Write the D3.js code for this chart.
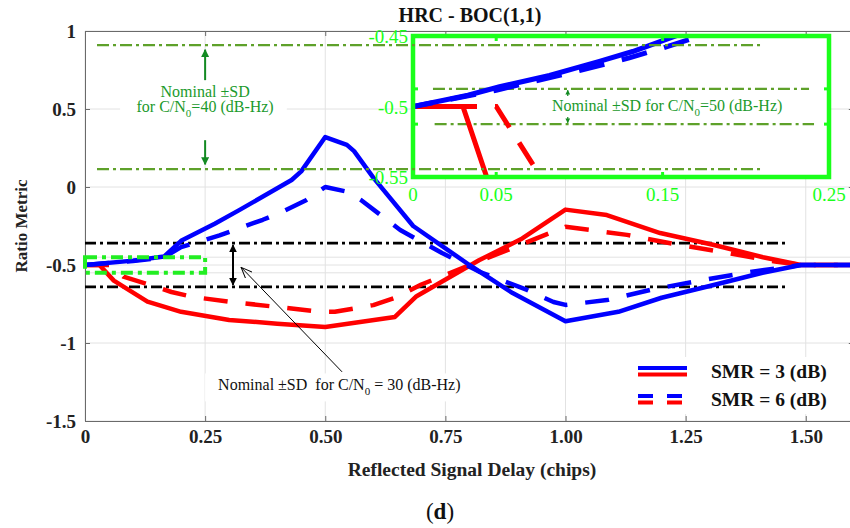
<!DOCTYPE html>
<html>
<head>
<meta charset="utf-8">
<script src="https://cdn.jsdelivr.net/npm/d3@7"></script>
<style>
  html, body { margin: 0; padding: 0; background: #fff; }
  svg { display: block; font-family: "Liberation Serif", "Times New Roman", serif; }
</style>
</head>
<body>
<svg id="chart" width="850" height="528"></svg>
<script>
// ---- main axes ticks ----
const xTicks = [0, 0.25, 0.5, 0.75, 1.0, 1.25, 1.5];
const xTickLabels = ["0", "0.25", "0.50", "0.75", "1.00", "1.25", "1.50"];
const yTicks = [-1.5, -1, -0.5, 0, 0.5, 1];
const yTickLabels = ["-1.5", "-1", "-0.5", "0", "0.5", "1"];
const yExtraGrid = [-0.45, -0.55];

// ---- ratio metric vs reflected signal delay ----
// SMR = 3 dB (solid), blue
const smr3BlueX = [0, 0.1, 0.165, 0.2, 0.27, 0.32, 0.43, 0.45, 0.5, 0.545, 0.56, 0.6, 0.683, 0.8, 0.89, 1.0, 1.11, 1.2, 1.3, 1.41, 1.49, 1.6];
const smr3BlueY = [-0.5, -0.472, -0.445, -0.345, -0.235, -0.15, 0.045, 0.1, 0.32, 0.27, 0.23, 0.06, -0.25, -0.5, -0.68, -0.86, -0.8, -0.71, -0.635, -0.55, -0.5, -0.5];
// SMR = 6 dB (dashed), blue
const smr6BlueX = [0, 0.1, 0.165, 0.2, 0.28, 0.37, 0.41, 0.46, 0.5, 0.545, 0.575, 0.656, 0.743, 0.822, 0.92, 0.975, 1.0, 1.086, 1.176, 1.286, 1.384, 1.49, 1.6];
const smr6BlueY = [-0.5, -0.475, -0.45, -0.385, -0.31, -0.21, -0.16, -0.085, 0.0, -0.03, -0.085, -0.276, -0.423, -0.545, -0.66, -0.737, -0.756, -0.725, -0.66, -0.596, -0.545, -0.5, -0.5];
// SMR = 3 dB (solid), red
const smr3RedX = [0, 0.03, 0.06, 0.13, 0.2, 0.3, 0.4, 0.5, 0.645, 0.69, 0.82, 0.91, 1.0, 1.086, 1.197, 1.307, 1.411, 1.49, 1.6];
const smr3RedY = [-0.5, -0.5, -0.6, -0.735, -0.8, -0.852, -0.876, -0.897, -0.833, -0.7, -0.47, -0.33, -0.145, -0.18, -0.295, -0.37, -0.45, -0.5, -0.5];
// SMR = 6 dB (dashed), red
const smr6RedX = [0, 0.05, 0.08, 0.135, 0.18, 0.225, 0.3, 0.42, 0.49, 0.52, 0.6, 0.65, 0.7, 1.0, 1.128, 1.238, 1.328, 1.44, 1.49, 1.6];
const smr6RedY = [-0.5, -0.5, -0.575, -0.628, -0.673, -0.705, -0.735, -0.776, -0.8, -0.8, -0.757, -0.705, -0.625, -0.255, -0.307, -0.372, -0.417, -0.48, -0.5, -0.5];

// nominal +/- SD bands
const sd30 = [-0.36, -0.64];          // C/N0 = 30 dB-Hz
const sd30Span = [0, 1.46];
const sd40 = [0.91, 0.115];           // C/N0 = 40 dB-Hz
const sd40Span = [0.025, 1.405];

// zoom window shown in the inset
const zoomX = [0, 0.25];
const zoomY = [-0.55, -0.45];

// ---- inset (zoom of the first 0.25 chips) ----
const insetXTicks = [0, 0.05, 0.15, 0.25];
const insetXTickLabels = ["0", "0.05", "0.15", "0.25"];
const insetYTicks = [-0.45, -0.5, -0.55];
const insetYTickLabels = ["-0.45", "-0.5", "-0.55"];
const insetBlue3X = [0, 0.033, 0.052, 0.082, 0.112, 0.132, 0.16, 0.175];
const insetBlue3Y = [-0.5, -0.492, -0.486, -0.478, -0.468, -0.461, -0.449, -0.442];
const insetBlue6X = [0, 0.05, 0.1, 0.13, 0.15, 0.17];
const insetBlue6Y = [-0.5, -0.4885, -0.4745, -0.4655, -0.4585, -0.451];
const insetRed3X = [0, 0.03, 0.046];
const insetRed3Y = [-0.5, -0.5, -0.556];
const insetRed6X = [0, 0.05, 0.08];
const insetRed6Y = [-0.5, -0.5, -0.556];
const sd50 = [-0.4875, -0.5125];      // C/N0 = 50 dB-Hz
const sd50Span = [[0.012, 0.238], [0.013, 0.241]];

// ---------------------------------------------------------------
const svg = d3.select("#chart");
const W = 850, H = 528;
svg.append("rect").attr("width", W).attr("height", H).attr("fill", "#fff");

const x = d3.scaleLinear().domain([0, 1.6]).range([85, 853.8]);
const y = d3.scaleLinear().domain([-1.5, 1]).range([421, 31]);

const zip = (xs, ys) => xs.map((v, i) => [v, ys[i]]);
const lineMain = d3.line().x(d => x(d[0])).y(d => y(d[1]));

svg.append("defs").html(`
  <clipPath id="plotClip"><rect x="85" y="31" width="770" height="390"/></clipPath>
  <marker id="blkHead" viewBox="0 0 10 10" refX="9" refY="5" markerWidth="4" markerHeight="4" orient="auto-start-reverse" markerUnits="strokeWidth">
    <path d="M0,0 L10,5 L0,10 z" fill="#000"/>
  </marker>
  <marker id="openHead" viewBox="0 0 12 10" refX="11" refY="5" markerWidth="12" markerHeight="10" orient="auto" markerUnits="userSpaceOnUse">
    <path d="M0,0.5 L11,5 L0,9.5" fill="none" stroke="#000" stroke-width="1"/>
  </marker>
  <marker id="grnHead" viewBox="0 0 10 10" refX="9" refY="5" markerWidth="4" markerHeight="4" orient="auto" markerUnits="strokeWidth">
    <path d="M0,0 L10,5 L0,10 z" fill="#138a22"/>
  </marker>
`);

// grid
const grid = svg.append("g").attr("stroke", "#e2e2e2").attr("stroke-width", 1);
grid.selectAll("line.gx").data(xTicks).join("line")
  .attr("x1", d => x(d)).attr("x2", d => x(d)).attr("y1", y(1)).attr("y2", y(-1.5));
grid.selectAll("line.gy").data(yTicks.concat(yExtraGrid)).join("line")
  .attr("x1", x(0)).attr("x2", W).attr("y1", d => y(d)).attr("y2", d => y(d));

// frame + ticks
const fontTick = "bold 19px 'Liberation Serif', serif";
const gx = svg.append("g").attr("transform", `translate(0,${y(-1.5)})`)
  .call(d3.axisBottom(x).tickValues(xTicks).tickFormat((d, i) => xTickLabels[i]).tickSizeInner(-5).tickSizeOuter(0).tickPadding(9));
const gy = svg.append("g").attr("transform", `translate(${x(0)},0)`)
  .call(d3.axisLeft(y).tickValues(yTicks).tickFormat((d, i) => yTickLabels[i]).tickSizeInner(-5).tickSizeOuter(0).tickPadding(9));
svg.append("g").attr("transform", `translate(0,${y(1)})`)
  .call(d3.axisTop(x).tickValues(xTicks).tickFormat("").tickSizeInner(-5).tickSizeOuter(0));
svg.append("g").attr("transform", `translate(${x(1.6)},0)`)
  .call(d3.axisRight(y).tickValues(yTicks).tickFormat("").tickSizeInner(-5).tickSizeOuter(0));
svg.selectAll(".domain").attr("stroke", "#6a6a6a");
svg.selectAll(".tick line").attr("stroke", "#6a6a6a");
[gx, gy].forEach(g => g.selectAll("text").style("font", fontTick).attr("fill", "#222"));

// C/N0 = 30 band
const plot = svg.append("g").attr("clip-path", "url(#plotClip)");
plot.selectAll("line.sd30").data(sd30).join("line")
  .attr("x1", x(sd30Span[0])).attr("x2", x(sd30Span[1]))
  .attr("y1", d => y(d)).attr("y2", d => y(d))
  .attr("stroke", "#000").attr("stroke-width", 2.6).attr("stroke-dasharray", "11,4,3,4");

// curves
const curves = [
  { xs: smr6RedX, ys: smr6RedY, c: "#ff0000", dash: "24,18" },
  { xs: smr3RedX, ys: smr3RedY, c: "#ff0000", dash: null },
  { xs: smr6BlueX, ys: smr6BlueY, c: "#0000ff", dash: "24,18" },
  { xs: smr3BlueX, ys: smr3BlueY, c: "#0000ff", dash: null }
];
plot.selectAll("path.curve").data(curves).join("path")
  .attr("d", d => lineMain(zip(d.xs, d.ys)))
  .attr("fill", "none").attr("stroke", d => d.c).attr("stroke-width", 4.5)
  .attr("stroke-linejoin", "round")
  .attr("stroke-dasharray", d => d.dash);

// zoom window outline
svg.append("rect")
  .attr("x", x(zoomX[0])).attr("y", y(zoomY[1]))
  .attr("width", x(zoomX[1]) - x(zoomX[0])).attr("height", y(zoomY[0]) - y(zoomY[1]))
  .attr("fill", "none").attr("stroke", "#22ee22").attr("stroke-width", 4)
  .attr("stroke-dasharray", "12,5,4,5");

// +/- SD arrow for C/N0 = 30 and its callout
svg.append("line")
  .attr("x1", x(0.308)).attr("x2", x(0.308)).attr("y1", y(sd30[0]) + 2).attr("y2", y(sd30[1]) - 2)
  .attr("stroke", "#000").attr("stroke-width", 2)
  .attr("marker-start", "url(#blkHead)").attr("marker-end", "url(#blkHead)");
svg.append("rect").attr("x", x(0.25)).attr("y", y(-1.195)).attr("width", x(0.82) - x(0.25)).attr("height", 28).attr("fill", "#fff");
svg.append("line")
  .attr("x1", x(0.535)).attr("y1", y(-1.185)).attr("x2", x(0.325)).attr("y2", y(-0.515))
  .attr("stroke", "#000").attr("stroke-width", 1).attr("marker-end", "url(#openHead)");
const t30 = svg.append("text").attr("x", x(0.277)).attr("y", y(-1.302))
  .style("font", "16px 'Liberation Serif', serif").attr("fill", "#111");
t30.append("tspan").text("Nominal \u00B1SD\u00A0 for C/N");
t30.append("tspan").attr("dy", 5).style("font-size", "11px").text("0");
t30.append("tspan").attr("dy", -5).text(" = 30 (dB-Hz)");

// C/N0 = 40 label with arrows
svg.append("rect").attr("x", x(0.073)).attr("y", y(0.685)).attr("width", x(0.42) - x(0.073)).attr("height", y(0.3) - y(0.685)).attr("fill", "#fff");
svg.append("line").attr("x1", x(0.25)).attr("x2", x(0.25)).attr("y1", y(0.685)).attr("y2", y(0.88))
  .attr("stroke", "#138a22").attr("stroke-width", 2).attr("marker-end", "url(#grnHead)");
svg.append("line").attr("x1", x(0.25)).attr("x2", x(0.25)).attr("y1", y(0.3)).attr("y2", y(0.145))
  .attr("stroke", "#138a22").attr("stroke-width", 2).attr("marker-end", "url(#grnHead)");
const t40 = svg.append("g").style("font", "16px 'Liberation Serif', serif").attr("fill", "#1b9a2c").attr("text-anchor", "middle");
t40.append("text").attr("x", x(0.25)).attr("y", y(0.575)).text("Nominal \u00B1SD");
const t40b = t40.append("text").attr("x", x(0.25)).attr("y", y(0.478));
t40b.append("tspan").text("for C/N");
t40b.append("tspan").attr("dy", 5).style("font-size", "11px").text("0");
t40b.append("tspan").attr("dy", -5).text("=40 (dB-Hz)");

// ---- inset ----
const xi = d3.scaleLinear().domain([0, 0.25]).range([413, 829]);
const yi = d3.scaleLinear().domain([-0.55, -0.45]).range([177, 36]);
const lineIn = d3.line().x(d => xi(d[0])).y(d => yi(d[1]));
svg.select("defs").append("clipPath").attr("id", "insetClip")
  .append("rect").attr("x", xi(0)).attr("y", yi(-0.45)).attr("width", xi(0.25) - xi(0)).attr("height", yi(-0.55) - yi(-0.45));
const inset = svg.append("g");
inset.append("rect").attr("x", xi(0)).attr("y", yi(-0.45)).attr("width", xi(0.25) - xi(0)).attr("height", yi(-0.55) - yi(-0.45)).attr("fill", "#fff");
const inPlot = inset.append("g").attr("clip-path", "url(#insetClip)");
inPlot.selectAll("line.sd50").data(sd50).join("line")
  .attr("x1", (d, i) => xi(sd50Span[i][0])).attr("x2", (d, i) => xi(sd50Span[i][1]))
  .attr("y1", d => yi(d)).attr("y2", d => yi(d))
  .attr("stroke", "#5ea12a").attr("stroke-width", 2.3).attr("stroke-dasharray", "12,4,3,4");
const inCurves = [
  { xs: insetRed6X, ys: insetRed6Y, c: "#ff0000", dash: "26,18" },
  { xs: insetRed3X, ys: insetRed3Y, c: "#ff0000", dash: null },
  { xs: insetBlue6X, ys: insetBlue6Y, c: "#0000ff", dash: "26,18" },
  { xs: insetBlue3X, ys: insetBlue3Y, c: "#0000ff", dash: null }
];
inPlot.selectAll("path.curve").data(inCurves).join("path")
  .attr("d", d => lineIn(zip(d.xs, d.ys)))
  .attr("fill", "none").attr("stroke", d => d.c).attr("stroke-width", 5)
  .attr("stroke-linejoin", "miter")
  .attr("stroke-dasharray", d => d.dash).attr("stroke-dashoffset", 6);
// small arrows between the C/N0 = 50 lines
inset.append("line").attr("x1", xi(0.093)).attr("x2", xi(0.093)).attr("y1", yi(-0.4925)).attr("y2", yi(-0.4885))
  .attr("stroke", "#138a22").attr("stroke-width", 1.2).attr("marker-end", "url(#grnHead)");
inset.append("line").attr("x1", xi(0.093)).attr("x2", xi(0.093)).attr("y1", yi(-0.5075)).attr("y2", yi(-0.5115))
  .attr("stroke", "#138a22").attr("stroke-width", 1.2).attr("marker-end", "url(#grnHead)");
const t50 = inset.append("text").attr("x", xi(0.0835)).attr("y", yi(-0.5035))
  .style("font", "16px 'Liberation Serif', serif").attr("fill", "#1b9a2c");
t50.append("tspan").text("Nominal \u00B1SD for C/N");
t50.append("tspan").attr("dy", 5).style("font-size", "11px").text("0");
t50.append("tspan").attr("dy", -5).text("=50 (dB-Hz)");
// inset frame and ticks
const lime = "#1aff1a";
inset.append("rect").attr("x", xi(0)).attr("y", yi(-0.45)).attr("width", xi(0.25) - xi(0)).attr("height", yi(-0.55) - yi(-0.45))
  .attr("fill", "none").attr("stroke", lime).attr("stroke-width", 4.5);
inset.selectAll("line.itx").data([0.05, 0.15]).join("line")
  .attr("x1", d => xi(d)).attr("x2", d => xi(d)).attr("y1", yi(-0.45)).attr("y2", yi(-0.45) + 5)
  .attr("stroke", lime).attr("stroke-width", 3);
inset.selectAll("line.ibx").data([0.05, 0.15]).join("line")
  .attr("x1", d => xi(d)).attr("x2", d => xi(d)).attr("y1", yi(-0.55)).attr("y2", yi(-0.55) - 5)
  .attr("stroke", lime).attr("stroke-width", 3);
inset.selectAll("line.ily").data(sd50).join("line")
  .attr("x1", xi(0)).attr("x2", xi(0) + 5).attr("y1", d => yi(d)).attr("y2", d => yi(d))
  .attr("stroke", lime).attr("stroke-width", 3);
inset.selectAll("line.iry").data(sd50).join("line")
  .attr("x1", xi(0.25)).attr("x2", xi(0.25) - 5).attr("y1", d => yi(d)).attr("y2", d => yi(d))
  .attr("stroke", lime).attr("stroke-width", 3);
inset.selectAll("text.ixl").data(insetXTicks).join("text")
  .attr("x", d => xi(d)).attr("y", yi(-0.55) + 24).attr("text-anchor", "middle")
  .style("font", "19px 'Liberation Serif', serif").attr("fill", lime)
  .text((d, i) => insetXTickLabels[i]);
inset.selectAll("text.iyl").data(insetYTicks).join("text")
  .attr("x", xi(0) - 5).attr("y", d => yi(d) + 7).attr("text-anchor", "end")
  .style("font", "19px 'Liberation Serif', serif").attr("fill", lime)
  .text((d, i) => insetYTickLabels[i]);

// C/N0 = 40 band (drawn across the inset as well)
svg.selectAll("line.sd40").data(sd40).join("line")
  .attr("x1", x(sd40Span[0])).attr("x2", x(sd40Span[1]))
  .attr("y1", d => y(d)).attr("y2", d => y(d))
  .attr("stroke", "#5ea12a").attr("stroke-width", 2.3).attr("stroke-dasharray", "12,4,3,4");

// legend
const lg = svg.append("g");
lg.append("rect").attr("x", 628).attr("y", 357).attr("width", 230).attr("height", 57).attr("fill", "#fff");
const legendItems = [
  { label: "SMR = 3 (dB)", dash: null, yy: 368 },
  { label: "SMR = 6 (dB)", dash: "15,14", yy: 396 }
];
legendItems.forEach(it => {
  lg.append("line").attr("x1", 638).attr("x2", 687).attr("y1", it.yy).attr("y2", it.yy)
    .attr("stroke", "#0000ff").attr("stroke-width", 4).attr("stroke-dasharray", it.dash);
  lg.append("line").attr("x1", 638).attr("x2", 687).attr("y1", it.yy + 6.5).attr("y2", it.yy + 6.5)
    .attr("stroke", "#ff0000").attr("stroke-width", 4).attr("stroke-dasharray", it.dash);
  lg.append("text").attr("x", 711).attr("y", it.yy + 10)
    .style("font", "bold 19.5px 'Liberation Serif', serif").attr("fill", "#111").text(it.label);
});

// titles
svg.append("text").attr("x", 470).attr("y", 22).attr("text-anchor", "middle")
  .style("font", "bold 20px 'Liberation Serif', serif").attr("fill", "#111").text("HRC - BOC(1,1)");
svg.append("text").attr("x", 472).attr("y", 476).attr("text-anchor", "middle")
  .style("font", "bold 19.5px 'Liberation Serif', serif").attr("fill", "#222").text("Reflected Signal Delay (chips)");
svg.append("text").attr("transform", `translate(27,${y(-0.25)}) rotate(-90)`).attr("text-anchor", "middle")
  .style("font", "bold 17px 'Liberation Serif', serif").attr("fill", "#222").text("Ratio Metric");
const cap = svg.append("text").attr("x", 440).attr("y", 519).attr("text-anchor", "middle")
  .style("font", "23px 'Liberation Serif', serif").attr("fill", "#111");
cap.append("tspan").text("(");
cap.append("tspan").style("font-weight", "bold").text("d");
cap.append("tspan").text(")");
</script>
</body>
</html>
